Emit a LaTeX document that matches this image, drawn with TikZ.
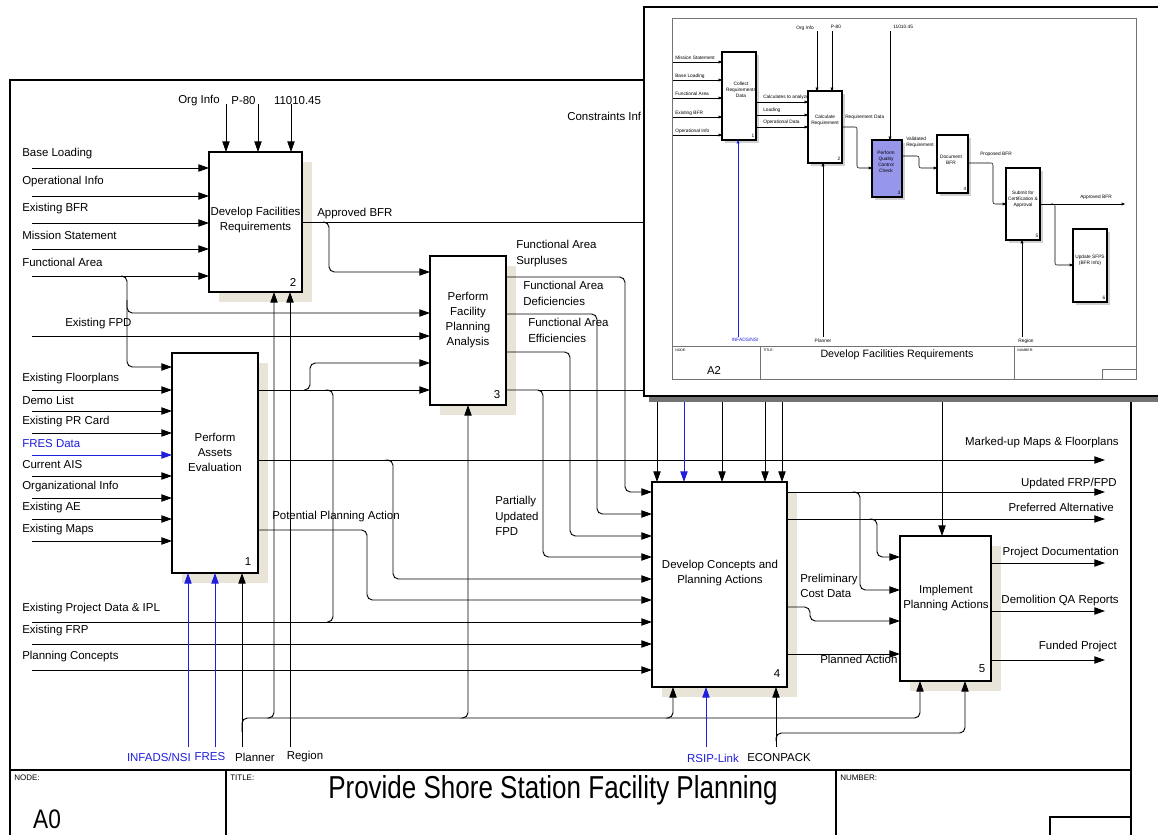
\documentclass[tikz,border=0pt]{standalone}
\usepackage{fontspec}
\setmainfont{Liberation Sans}
\usetikzlibrary{arrows.meta,fit}
\definecolor{shadowc}{RGB}{232,228,215}
\definecolor{linkblue}{RGB}{30,30,220}
\definecolor{qcblue}{RGB}{150,150,235}
\begin{document}
\begin{tikzpicture}[x=0.75pt,y=-0.75pt,
  font=\fontsize{8.6}{10.5}\selectfont,
  arr/.style={draw, line width=0.7pt, -{Triangle[length=8pt,width=5.5pt]}, rounded corners=4pt},
  ln/.style={draw, line width=0.7pt, rounded corners=4pt},
  box/.style={draw, line width=1.5pt, fill=white, inner sep=0pt, outer sep=0pt},
  shd/.style={fill=shadowc},
  lbl/.style={inner sep=0pt, anchor=west},
  btxt/.style={align=center, inner sep=0pt, font=\fontsize{8.6}{11.3}\selectfont},
  mlbl/.style={inner sep=0pt, align=left, anchor=north west, font=\fontsize{8.6}{12}\selectfont},
  tb/.style={inner sep=0pt, anchor=north west, font=\fontsize{6}{7}\selectfont},
  iarr/.style={draw, line width=0.4pt, -{Triangle[length=2.6pt,width=2.2pt]}, rounded corners=1.5pt},
  ibox/.style={draw, line width=0.8pt, fill=white, inner sep=0pt, outer sep=0pt},
  ishd/.style={fill=black!18},
  ilbl/.style={inner sep=0pt, font=\fontsize{3.6}{4.4}\selectfont},
  itxt/.style={inner sep=0pt, align=center, font=\fontsize{3.6}{4.6}\selectfont},
]
\useasboundingbox (0,0) rectangle (1158,835);
\fill[white] (0,0) rectangle (1158,835);

% ---------- main frame and title block ----------
\draw[line width=0.9pt] (10,835) -- (10,80) -- (700,80);
\draw[line width=0.9pt] (1131,380) -- (1131,835);
\draw[line width=0.9pt] (10,770) -- (1131,770);
\draw[line width=0.9pt] (226,770) -- (226,835);
\draw[line width=0.9pt] (836,770) -- (836,835);
\draw[line width=0.9pt] (1050,835) -- (1050,817) -- (1131,817);
\node[tb] at (14,775) {NODE:};
\node[tb] at (230,775) {TITLE:};
\node[tb] at (840,775) {NUMBER:};
\node[inner sep=0pt, font=\fontsize{19.5}{22}\selectfont] at (553,790) {\scalebox{1}[1.22]{Provide Shore Station Facility Planning}};
\node[inner sep=0pt, font=\fontsize{17}{19}\selectfont] at (47,819) {\scalebox{1}[1.18]{A0}};

% ---------- shadows ----------
\fill[shd] (182,363) rectangle (268,583);
\fill[shd] (219,162) rectangle (312,302);
\fill[shd] (440,266) rectangle (516,415);
\fill[shd] (662,492) rectangle (797,697);
\fill[shd] (910,546) rectangle (1001,691);

% ---------- boxes ----------
\node[box, fit={(172,353) (258,573)}] (b1) {};
\node[box, fit={(209,152) (302,292)}] (b2) {};
\node[box, fit={(430,256) (506,405)}] (b3) {};
\node[box, fit={(652,482) (787,687)}] (b4) {};
\node[box, fit={(900,536) (991,681)}] (b5) {};

% ---------- box 2 inputs and controls ----------
\foreach \y/\t in {168/Base Loading,196/Operational Info,223/Existing BFR,249/Mission Statement,276/Functional Area} {
  \coordinate (s) at (32,\y);
  \draw[arr] (s) -- (s -| b2.west);
  \node[lbl] at (22,\y-14) {\t};
}
\node[inner sep=0pt] at (199,101) {Org Info};
\node[inner sep=0pt] at (243.5,101) {P-80};
\node[inner sep=0pt] at (297.5,101) {11010.45};
\foreach \x in {226,258,291} {
  \coordinate (c) at (\x,104);
  \draw[arr] (c) -- (c |- b2.north);
}

% Functional Area branches
\draw[arr] (121,276) -- (127,276) -- (127,313) -- (b3.west |- 0,313);
\draw[arr] (127,300) -- (127,367) -- (b1.west |- 0,367);

% Existing FPD
\coordinate (efpd) at (32,336);
\draw[arr] (efpd) -- (efpd -| b3.west);
\node[lbl] at (65,324) {Existing FPD};

% Approved BFR
\draw[ln] (b2.east |- 0,222) -- (700,222);
\draw[arr] (323,222) -- (329,222) -- (329,272) -- (b3.west |- 0,272);
\node[inner sep=0pt, anchor=south west] at (317,219) {Approved BFR};

% Constraints label (cut by the inset)
\node[lbl] at (567,116) {Constraints Inf};

% ---------- box 1 inputs ----------
\foreach \y/\t in {390/Existing Floorplans,411/Demo List,433/Existing PR Card,476/Current AIS,498/Organizational Info,519/Existing AE,541/Existing Maps} {
  \coordinate (s) at (32,\y);
  \draw[arr] (s) -- (s -| b1.west);
  \node[lbl] at (22,\y-11) {\t};
}
\coordinate (fres) at (32,455);
\draw[arr, draw=linkblue, color=linkblue] (fres) -- (fres -| b1.west);
\node[lbl, text=linkblue] at (22,444) {FRES Data};

% ---------- box 1 outputs ----------
\draw[arr] (b1.east |- 0,390) -- (b3.west |- 0,390);
\draw[arr] (304,390) -- (310,390) -- (310,363) -- (b3.west |- 0,363);
\draw[ln] (328,390) -- (333,390) -- (333,622) -- (327,622);

\coordinate (mu) at (1105,460);
\draw[arr] (b1.east |- mu) -- (mu);
\node[inner sep=0pt, anchor=east] at (1119,443) {Marked-up Maps \& Floorplans};
\draw[arr] (388,460) -- (393,460) -- (393,579) -- (b4.west |- 0,579);

\draw[arr] (b1.east |- 0,530) -- (367,530) -- (367,600) -- (b4.west |- 0,600);
\node[lbl] at (272,517) {Potential Planning Action};

% ---------- box 4 inputs from the left ----------
\foreach \y/\t in {622/Existing Project Data \& IPL,644/Existing FRP,670/Planning Concepts} {
  \coordinate (s) at (32,\y);
  \draw[arr] (s) -- (s -| b4.west);
  \node[lbl] at (22,\y-13) {\t};
}

% ---------- box 3 outputs ----------
\draw[arr] (b3.east |- 0,277) -- (625,277) -- (625,492) -- (b4.west |- 0,492);
\draw[arr] (b3.east |- 0,314) -- (597,314) -- (597,514) -- (b4.west |- 0,514);
\draw[arr] (b3.east |- 0,352) -- (570,352) -- (570,536) -- (b4.west |- 0,536);
\draw[arr] (b3.east |- 0,390) -- (543,390) -- (543,557) -- (b4.west |- 0,557);
\draw[ln] (538,390) -- (700,390);
\node[mlbl] at (516,240) {Functional Area\\Surpluses};
\node[mlbl] at (523,281) {Functional Area\\Deficiencies};
\node[mlbl] at (528,318) {Functional Area\\Efficiencies};
\node[mlbl, font=\fontsize{8.6}{11.6}\selectfont] at (495,496) {Partially\\Updated\\FPD};

% ---------- controls of boxes 4 and 5 (coming from under the inset) ----------
\foreach \x in {657,722,765,782} {
  \coordinate (c) at (\x,380);
  \draw[arr] (c) -- (c |- b4.north);
}
\coordinate (crs) at (684,380);
\draw[arr, draw=linkblue, color=linkblue] (crs) -- (crs |- b4.north);
\coordinate (c5) at (942,380);
\draw[arr] (c5) -- (c5 |- b5.north);

% ---------- box 4 outputs ----------
\draw[arr] (b4.east |- 0,492) -- (1105,492);
\draw[arr] (855,492) -- (860,492) -- (860,590) -- (b5.west |- 0,590);
\draw[arr] (b4.east |- 0,519) -- (1105,519);
\draw[arr] (872,519) -- (877,519) -- (877,557) -- (b5.west |- 0,557);
\draw[arr] (b4.east |- 0,607) -- (810,607) -- (810,621) -- (b5.west |- 0,621);
\draw[arr] (b4.east |- 0,654) -- (b5.west |- 0,654);
\node[inner sep=0pt, anchor=east] at (1117,484) {Updated FRP/FPD};
\node[inner sep=0pt, anchor=east] at (1114,507) {Preferred Alternative};
\node[mlbl, font=\fontsize{8.6}{11.5}\selectfont] at (800,574) {Preliminary\\Cost Data};
\node[inner sep=0pt, anchor=north west] at (820,655) {Planned Action};

% ---------- box 5 outputs ----------
\draw[arr] (b5.east |- 0,563) -- (1105,563);
\draw[arr] (b5.east |- 0,611) -- (1105,611);
\draw[arr] (b5.east |- 0,660) -- (1105,660);
\node[inner sep=0pt, anchor=east] at (1119,553) {Project Documentation};
\node[inner sep=0pt, anchor=east] at (1119,601) {Demolition QA Reports};
\node[inner sep=0pt, anchor=east] at (1117,647) {Funded Project};

% ---------- mechanisms ----------
\coordinate (mINF) at (188,747);
\draw[arr, draw=linkblue, color=linkblue] (mINF) -- (mINF |- b1.south);
\coordinate (mFRES) at (215,747);
\draw[arr, draw=linkblue, color=linkblue] (mFRES) -- (mFRES |- b1.south);
\coordinate (mPl) at (242,747);
\draw[arr] (mPl) -- (mPl |- b1.south);
\draw[arr] (242,732) -- (242,718) -- (920,718) -- (920,0 |- b5.south);
\draw[arr] (269,718) -- (274,718) -- (274,0 |- b2.south);
\draw[arr] (463,718) -- (468,718) -- (468,0 |- b3.south);
\draw[arr] (668,718) -- (673,718) -- (673,0 |- b4.south);
\coordinate (mRg) at (290,747);
\draw[arr] (mRg) -- (mRg |- b2.south);
\coordinate (mRS) at (706,747);
\draw[arr, draw=linkblue, color=linkblue] (mRS) -- (mRS |- b4.south);
\coordinate (mEc) at (776,747);
\draw[arr] (mEc) -- (mEc |- b4.south);
\draw[arr] (776,741) -- (776,733) -- (965,733) -- (965,0 |- b5.south);

\node[inner sep=0pt, anchor=east, text=linkblue] at (191,757) {INFADS/NSI};
\node[inner sep=0pt, text=linkblue] at (210,757) {FRES};
\node[inner sep=0pt] at (255,757) {Planner};
\node[inner sep=0pt] at (305,757) {Region};
\node[inner sep=0pt, text=linkblue] at (713,758) {RSIP-Link};
\node[inner sep=0pt] at (779,758) {ECONPACK};

% ---------- box labels and numbers ----------
\node[btxt] at (215,452) {Perform\\Assets\\Evaluation};
\node[btxt] at (255.5,220) {Develop Facilities\\Requirements};
\node[btxt] at (468,320) {Perform\\Facility\\Planning\\Analysis};
\node[btxt] at (720,573) {Develop Concepts and\\Planning Actions};
\node[btxt] at (946,598) {Implement\\Planning Actions};
\node[inner sep=0pt] at (248,562) {1};
\node[inner sep=0pt] at (293,282) {2};
\node[inner sep=0pt] at (497,395) {3};
\node[inner sep=0pt] at (777,674) {4};
\node[inner sep=0pt] at (982,669) {5};

% =================== INSET (A2) ===================
\fill[black!55] (649,396) rectangle (1158,402);
\draw[line width=1.8pt, fill=white] (644,7) rectangle (1170,396);
\draw[black!55, line width=0.5pt] (672,18) rectangle (1136,379);
\draw[black!55, line width=0.5pt] (672,346) -- (1136,346);
\draw[black!55, line width=0.5pt] (760,346) -- (760,379);
\draw[black!55, line width=0.5pt] (1014,346) -- (1014,379);
\draw[black!55, line width=0.5pt] (1102,379) -- (1102,369) -- (1136,369);
\node[ilbl, anchor=north west, font=\fontsize{2.6}{3}\selectfont] at (675,348.5) {NODE:};
\node[ilbl, anchor=north west, font=\fontsize{2.6}{3}\selectfont] at (763,348.5) {TITLE:};
\node[ilbl, anchor=north west, font=\fontsize{2.6}{3}\selectfont] at (1017,348.5) {NUMBER:};
\node[inner sep=0pt, font=\fontsize{8}{9}\selectfont] at (897,355) {Develop Facilities Requirements};
\node[inner sep=0pt, font=\fontsize{8.5}{9}\selectfont] at (714,371) {A2};

% inset shadows
\fill[ishd] (725,55) rectangle (759,143);
\fill[ishd] (811,94) rectangle (845,166);
\fill[ishd] (875,143) rectangle (905,200);
\fill[ishd] (940,138) rectangle (971,196);
\fill[ishd] (1009,171) rectangle (1043,243);
\fill[ishd] (1076,232) rectangle (1110,305);

% inset boxes
\node[ibox, fit={(722,52) (756,140)}] (i1) {};
\node[ibox, fit={(808,91) (842,163)}] (i2) {};
\node[ibox, fill=qcblue, fit={(872,140) (902,197)}] (i3) {};
\node[ibox, fit={(937,135) (968,193)}] (i4) {};
\node[ibox, fit={(1006,168) (1040,240)}] (i5) {};
\node[ibox, fit={(1073,229) (1107,302)}] (i6) {};
\node[itxt] at (741,90) {Collect\\Requirements\\Data};
\node[itxt] at (825,120) {Calculate\\Requirement};
\node[itxt] at (886,162) {Perform\\Quality\\Control\\Check};
\node[itxt] at (951,160) {Document\\BFR};
\node[itxt] at (1023,199) {Submit for\\Certification \&\\Approval};
\node[itxt] at (1090,260) {Update SFPS\\(BFR Info)};
\node[ilbl] at (753,136) {1};
\node[ilbl] at (839,159) {2};
\node[ilbl] at (899,193) {3};
\node[ilbl] at (965,189) {4};
\node[ilbl] at (1037,236) {5};
\node[ilbl] at (1104,298) {6};

% inset inputs
\foreach \y/\t in {62/Mission Statement,80/Base Loading,98/Functional Area,117/Existing BFR,135/Operational Info} {
  \coordinate (s) at (673,\y);
  \draw[iarr] (s) -- (s -| i1.west);
  \node[ilbl, anchor=west] at (675,\y-4) {\t};
}
\foreach \y/\t in {102/Calculates to analyze,115/Loading,127/Operational Data} {
  \coordinate (s) at (756,\y);
  \draw[iarr] (s) -- (s -| i2.west);
  \node[ilbl, anchor=west] at (763,\y-4.5) {\t};
}
% inset controls
\node[ilbl] at (805,28) {Org Info};
\node[ilbl] at (836,27) {P-80};
\node[ilbl, anchor=west] at (893,27) {11010.45};
\foreach \x in {817,832} {
  \coordinate (c) at (\x,31);
  \draw[iarr] (c) -- (c |- i2.north);
}
\coordinate (ci3) at (890,31);
\draw[iarr] (ci3) -- (ci3 |- i3.north);

% inset flows
\draw[iarr] (i2.east |- 0,127) -- (857,127) -- (857,168) -- (i3.west |- 0,168);
\node[ilbl, anchor=west] at (845,117) {Requirement Data};
\draw[iarr] (i3.east |- 0,156) -- (919,156) -- (919,168) -- (i4.west |- 0,168);
\node[ilbl, anchor=north west, align=left] at (906,137) {Validated\\Requirement};
\draw[iarr] (i4.east |- 0,163) -- (993,163) -- (993,204) -- (i5.west |- 0,204);
\node[ilbl, anchor=west] at (980,154) {Proposed BFR};
\draw[iarr] (i5.east |- 0,204) -- (1125,204);
\node[ilbl] at (1096,197) {Approved BFR};
\draw[iarr] (1051,204) -- (1055,204) -- (1055,265) -- (i6.west |- 0,265);

% inset mechanisms
\coordinate (mi1) at (738,337);
\draw[iarr, draw=linkblue, color=linkblue] (mi1) -- (mi1 |- i1.south);
\node[ilbl, text=linkblue] at (745,340) {INFADS/NSI};
\coordinate (mi2) at (823,337);
\draw[iarr] (mi2) -- (mi2 |- i2.south);
\node[ilbl] at (823,341) {Planner};
\coordinate (mi5) at (1022,337);
\draw[iarr] (mi5) -- (mi5 |- i5.south);
\node[ilbl] at (1026,341) {Region};
\end{tikzpicture}
\end{document}
